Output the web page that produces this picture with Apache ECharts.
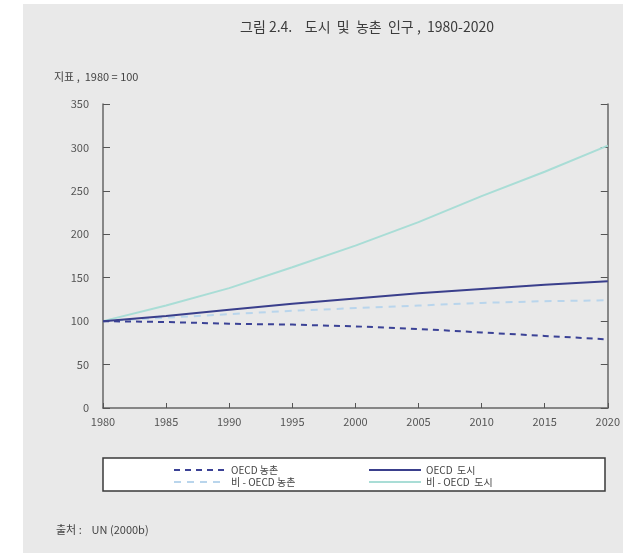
<!DOCTYPE html>
<html><head><meta charset="utf-8">
<script src="https://cdn.jsdelivr.net/npm/echarts@6/dist/echarts.min.js"></script>
<style>html,body{margin:0;padding:0;background:#fff}#c{width:623px;height:553px}</style>
</head><body><div id="c"></div>
<script>
var years = [1980, 1985, 1990, 1995, 2000, 2005, 2010, 2015, 2020];
var oecdRural = [100, 99, 97, 96, 94, 91, 87, 83, 79];
var oecdUrban = [100, 106, 113, 120, 126, 132, 137, 142, 146];
var nonOecdRural = [100, 104, 108, 112, 115, 118, 121, 123, 124];
var nonOecdUrban = [100, 118, 138, 162, 187, 214, 244, 272, 302];
var names = ['OECD 농촌', 'OECD  도시', '비 - OECD 농촌', '비 - OECD  도시'];

function pairs(arr){ return years.map(function(y,i){ return [y, arr[i]]; }); }
var font = "'Noto Sans CJK KR', sans-serif";
var chart = echarts.init(document.getElementById('c'));
chart.setOption({
  backgroundColor: '#ffffff',
  animation: false,
  textStyle: {fontFamily: font},
  graphic: [
    {type:'rect', z:-10, shape:{x:23,y:4,width:600,height:549}, style:{fill:'#e9e9e9'}},
    {type:'rect', z:0, shape:{x:103,y:458,width:502,height:33}, style:{fill:'#ffffff', stroke:'#3a3a3a', lineWidth:1.5}},
    {type:'text', left:240, top:20, style:{text:'그림 2.4.    도시  및  농촌  인구 ,  1980-2020', fill:'#3c3c3c', font:'14px ' + font}},
    {type:'text', left:54, top:71, style:{text:'지표 ,  1980 = 100', fill:'#444', font:'11px ' + font}},
    {type:'text', left:56, top:524, style:{text:'출처 :    UN (2000b)', fill:'#444', font:'11px ' + font}}
  ],
  grid: {left:103, right:12, top:104, bottom:145},
  legend: [
    {orient:'vertical', left:168, top:460, itemWidth:52, itemHeight:10, itemGap:2, data:[names[0], names[2]], itemStyle:{opacity:0}, textStyle:{fontSize:10, color:'#444', fontFamily:font}},
    {orient:'vertical', left:363, top:460, itemWidth:52, itemHeight:10, itemGap:2, data:[names[1], names[3]], itemStyle:{opacity:0}, textStyle:{fontSize:10, color:'#444', fontFamily:font}}
  ],
  xAxis: {
    type:'value', min:1980, max:2020, interval:5,
    axisLine:{lineStyle:{color:'#666', width:1.5}},
    axisTick:{inside:true, length:5, lineStyle:{color:'#555'}},
    axisLabel:{color:'#555', fontSize:11, margin:8, formatter:function(v){return String(v);}},
    splitLine:{show:false}
  },
  yAxis: [
    {type:'value', min:0, max:350, interval:50, position:'left',
     axisLine:{show:true, lineStyle:{color:'#666', width:1.5}},
     axisTick:{show:true, inside:true, length:7, lineStyle:{color:'#555'}},
     axisLabel:{color:'#555', fontSize:11, margin:14},
     splitLine:{show:false}},
    {type:'value', min:0, max:350, interval:50, position:'right',
     axisLine:{show:true, lineStyle:{color:'#666', width:1.5}},
     axisTick:{show:true, inside:true, length:7, lineStyle:{color:'#555'}},
     axisLabel:{show:false},
     splitLine:{show:false}}
  ],
  series: [
    {name:names[0], type:'line', symbol:'none', data:pairs(oecdRural), lineStyle:{color:'#3b4296', width:2, type:[6,5]}, itemStyle:{color:'#3b4296'}, z:3},
    {name:names[1], type:'line', symbol:'none', data:pairs(oecdUrban), lineStyle:{color:'#3a3f8c', width:2}, itemStyle:{color:'#3a3f8c'}, z:4},
    {name:names[2], type:'line', symbol:'none', data:pairs(nonOecdRural), lineStyle:{color:'#b9d5ec', width:2, type:[7,6]}, itemStyle:{color:'#b9d5ec'}, z:2},
    {name:names[3], type:'line', symbol:'none', data:pairs(nonOecdUrban), lineStyle:{color:'#a9ddd6', width:2}, itemStyle:{color:'#a9ddd6'}, z:2}
  ]
});
</script></body></html>
